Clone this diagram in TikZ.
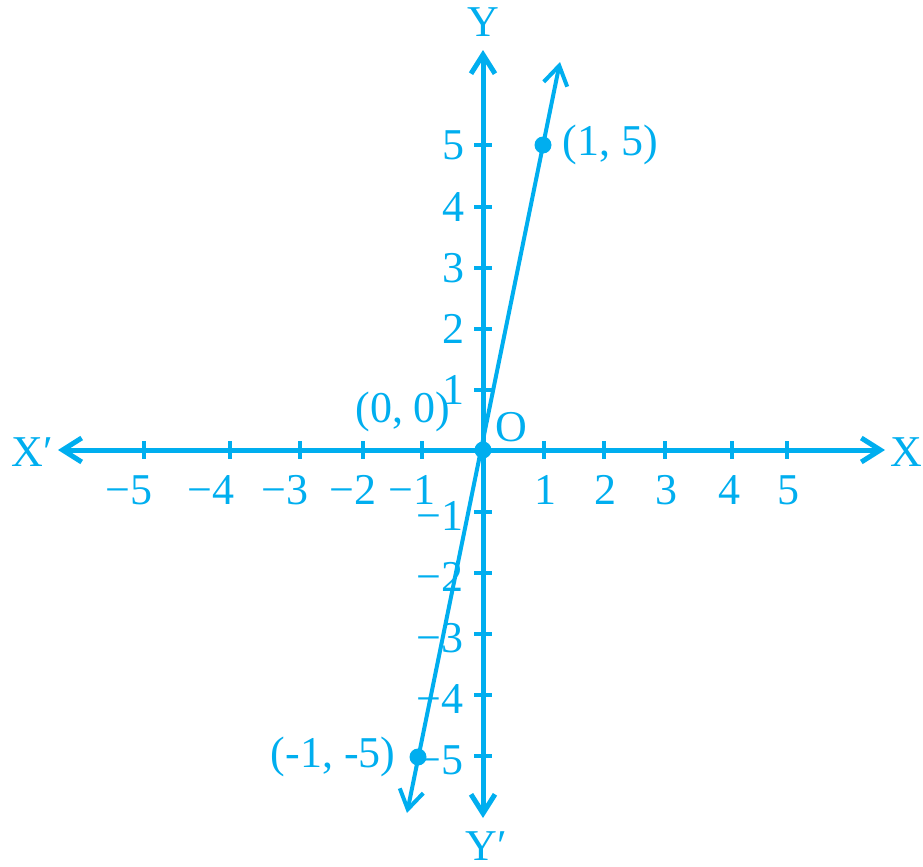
\documentclass[tikz,border=0pt]{standalone}
\usepackage{fontspec}
\setmainfont{Liberation Serif}
\usetikzlibrary{arrows.meta}
\definecolor{AxisBlue}{HTML}{00AEEF}

\tikzset{
  axis/.style={draw=AxisBlue, line width=2.5pt,
    {Straight Barb[length=9.5pt,width=12pt]}-{Straight Barb[length=9.5pt,width=12pt]}},
  graphline/.style={draw=AxisBlue, line width=2pt,
    {Straight Barb[length=9.5pt,width=12pt]}-{Straight Barb[length=9.5pt,width=12pt]}},
  tick/.style={draw=AxisBlue, line width=2pt},
  dot/.style={circle, fill=AxisBlue, inner sep=0pt, minimum size=8.5pt},
  lbl/.style={text=AxisBlue, inner sep=0pt}
}

\begin{document}
\begin{tikzpicture}[x=0.5pt, y=-0.5pt, font=\fontsize{22}{26}\selectfont]
  \useasboundingbox (0,0) rectangle (923,867);

  % axes
  \coordinate (O) at (483,450);
  \coordinate (xneg) at (58,450);
  \coordinate (xpos) at (885,450);
  \coordinate (ytop) at (483,50);
  \coordinate (ybot) at (483,818);
  \draw[axis] (xneg) -- (xpos);
  \draw[axis] (ybot) -- (ytop);

  \node[lbl] (Xp) at (32,452) {X′};
  \node[lbl] (X) at (906,452) {X};
  \node[lbl] (Y) at (483,22) {Y};
  \node[lbl] (Yp) at (486,846) {Y′};

  % ticks on x
  \foreach \x/\lx/\lab [count=\k] in {144/129/−5, 230/211/−4, 300/285/−3, 363/353/−2,
      422/412/−1, 544/545/1, 604/605/2, 665/666/3, 732/729/4, 787/788/5} {
    \draw[tick] (\x,441) -- (\x,459);
    \node[lbl] (xlab\k) at (\lx,490) {\lab};
  }

  % ticks on y
  \foreach \y/\lab [count=\k] in {145/5, 207/4, 268/3, 329/2, 390/1} {
    \draw[tick] (474,\y) -- (492,\y);
    \node[lbl] (ylab\k) at (453,\y) {\lab};
  }
  \foreach \y/\lab [count=\k] in {512/−1, 573/−2, 634/−3, 695/−4, 756/−5} {
    \draw[tick] (474,\y) -- (492,\y);
    \node[lbl] (ynlab\k) at (440,\y+4) {\lab};
  }

  % the line through (1,5) and (-1,-5)
  \coordinate (ltop) at (560,62);
  \coordinate (lbot) at (407,813);
  \draw[graphline] (lbot) -- (ltop);

  \node[dot] (P) at (543,145) {};
  \node[dot] (Q) at (418,757) {};
  \node[dot] (Odot) at (O) {};

  \node[lbl] (Plab) at (610,145) {(1, 5)};
  \node[lbl] (Qlab) at (333,757) {(-1, -5)};
  \node[lbl] (Olab) at (403,412) {(0, 0)};
  \node[lbl] (Oname) at (511,427) {O};
\end{tikzpicture}
\end{document}
